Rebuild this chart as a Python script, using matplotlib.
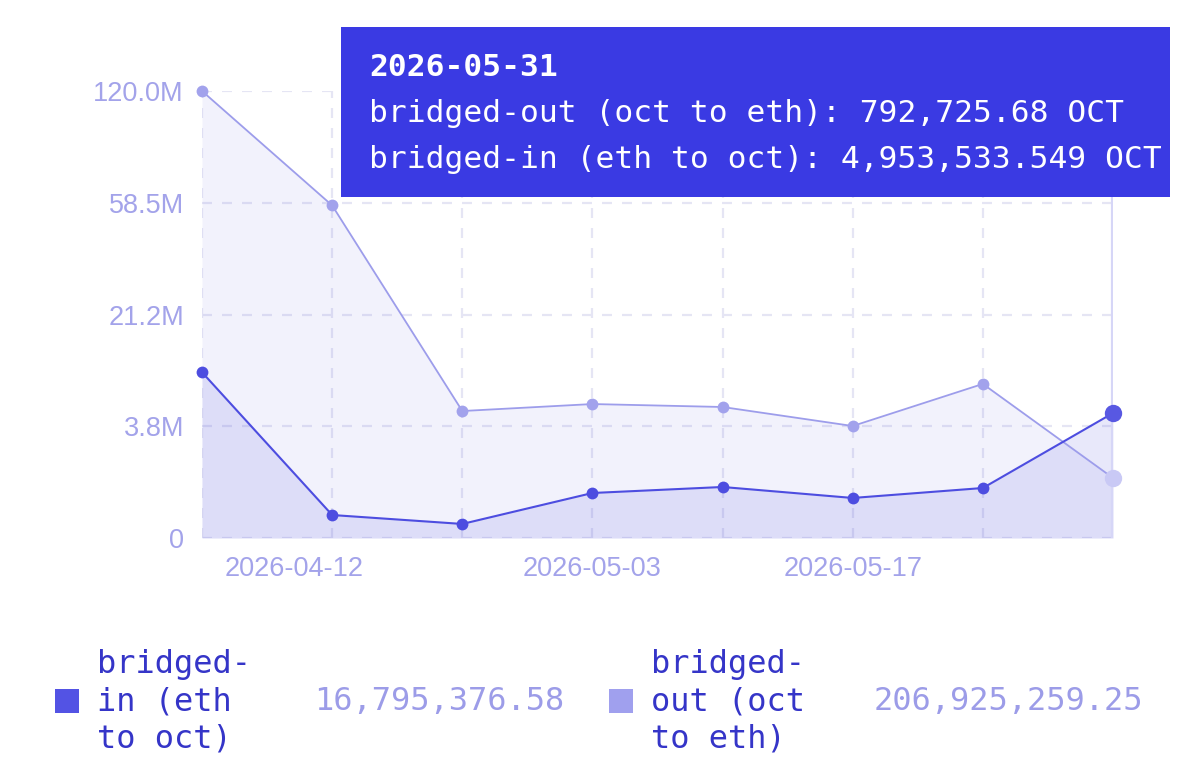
"""
Bridged OCT volume per week: bridged-in vs bridged-out, on a power (^0.4) y scale,
with the hover tooltip for the last week and a totals legend underneath.
Output: out.png
"""

import numpy as np
import pandas as pd
import matplotlib
matplotlib.use("Agg")
import matplotlib.pyplot as plt
import matplotlib.dates as mdates
from matplotlib.patches import Rectangle
from matplotlib.transforms import ScaledTranslation

# ---------------------------------------------------------------------------
# Data
# ---------------------------------------------------------------------------
dates = ["2026-04-12", "2026-04-19", "2026-04-26", "2026-05-03",
         "2026-05-10", "2026-05-17", "2026-05-24", "2026-05-31"]
bridged_out = [120.0e6, 57.3e6, 5.16e6, 5.9e6, 5.58e6, 3.77e6, 8.37e6, 792725.68]
bridged_in = [10.05e6, 0.072e6, 0.021e6, 0.386e6, 0.528e6, 0.288e6, 0.502e6, 4953533.549]

y_ticks = [0, 3.75e6, 21.21e6, 58.46e6, 120.0e6]
y_tick_labels = ["0", "3.8M", "21.2M", "58.5M", "120.0M"]
x_tick_dates = ["2026-04-12", "2026-05-03", "2026-05-17"]

total_in = "16,795,376.58"
total_out = "206,925,259.25"
tooltip_date = "2026-05-31"
tooltip_out = "792,725.68"
tooltip_in = "4,953,533.549"

# ---------------------------------------------------------------------------
# Style
# ---------------------------------------------------------------------------
C_IN = "#4d4de0"
C_OUT = "#9d9deb"
C_TICK = "#a3a3ea"
C_GRID = "#e5e5f4"
C_TIP = "#3a3ae3"
C_LEG = "#3535c8"
C_VAL = "#9c9ce8"
MONO = "DejaVu Sans Mono"
SANS = "Liberation Sans"

x = pd.to_datetime(dates)

fig = plt.figure(figsize=(12, 7.8), dpi=100)
ax = fig.add_axes([202 / 1200, 1 - 538 / 780, (1113 - 202) / 1200, 447 / 780])

ax.set_yscale("function",
              functions=(lambda v: np.power(np.clip(v, 0, None), 0.4),
                         lambda v: np.power(np.clip(v, 0, None), 2.5)))
ax.set_ylim(0, 120e6)
ax.set_xlim(x[0], x[-1])

# grid
for d in x:
    ax.axvline(d, color=C_GRID, lw=1.6, dashes=(4.5, 4.5), zorder=1)
for t in y_ticks:
    ax.axhline(t, color=C_GRID, lw=1.6, dashes=(4.5, 4.5), zorder=1)

# areas
ax.fill_between(x, 0, bridged_out, color="#7070e8", alpha=0.09, lw=0, zorder=2)
ax.fill_between(x, 0, bridged_in, color="#5050e0", alpha=0.13, lw=0, zorder=3)

# cursor line
ax.axvline(x[-1], color="#d6d6f7", lw=3, zorder=3)

# lines + dots
ax.plot(x, bridged_out, color=C_OUT, lw=1.3, zorder=4)
ax.plot(x, bridged_in, color=C_IN, lw=1.5, zorder=5)
ax.plot(x[:-1], bridged_out[:-1], "o", color="#a2a2ec", ms=8.5, mec="none", zorder=6,
        clip_on=False)
ax.plot(x[:-1], bridged_in[:-1], "o", color=C_IN, ms=8.5, mec="none", zorder=6,
        clip_on=False)
ax.plot(x[-1:], bridged_out[-1:], "o", color="#c9c9f5", ms=12.5, mec="none", zorder=6,
        clip_on=False)
ax.plot(x[-1:], bridged_in[-1:], "o", color="#5858e2", ms=12.5, mec="none", zorder=7,
        clip_on=False)

# axes
for s in ax.spines.values():
    s.set_visible(False)
ax.set_yticks(y_ticks)
ax.set_yticklabels(y_tick_labels)
ax.set_xticks(pd.to_datetime(x_tick_dates))
ax.xaxis.set_major_formatter(mdates.DateFormatter("%Y-%m-%d"))
ax.tick_params(axis="both", length=0, labelsize=19.5, labelcolor=C_TICK)
ax.tick_params(axis="y", pad=13)
ax.tick_params(axis="x", pad=13)
for lab in ax.get_yticklabels() + ax.get_xticklabels():
    lab.set_fontfamily(SANS)
# first date label is pushed right, like the original
first = ax.get_xticklabels()[0]
first.set_transform(first.get_transform() + ScaledTranslation(0.92, 0, fig.dpi_scale_trans))

# ---------------------------------------------------------------------------
# Tooltip
# ---------------------------------------------------------------------------
fig.patches.append(Rectangle((341 / 1200, 1 - 197 / 780), 829 / 1200, 170 / 780,
                             transform=fig.transFigure, facecolor=C_TIP,
                             edgecolor="none", zorder=10))
fig.text(369 / 1200, 1 - 68 / 780, tooltip_date, family=MONO, weight="bold",
         fontsize=22.5, color="white", va="center", zorder=11)
fig.text(369 / 1200, 1 - 114 / 780, f"bridged-out (oct to eth): {tooltip_out} OCT",
         family=MONO, fontsize=22.5, color="white", va="center", zorder=11)
fig.text(369 / 1200, 1 - 160 / 780, f"bridged-in (eth to oct): {tooltip_in} OCT",
         family=MONO, fontsize=22.5, color="white", va="center", zorder=11)

# ---------------------------------------------------------------------------
# Legend with totals
# ---------------------------------------------------------------------------
leg_y = 1 - 702 / 780
fig.patches.append(Rectangle((55 / 1200, 1 - 713 / 780), 24 / 1200, 24 / 780,
                             transform=fig.transFigure, facecolor="#5353e4",
                             edgecolor="none"))
fig.text(97 / 1200, leg_y, "bridged-\nin (eth\nto oct)", family=MONO, fontsize=23,
         color=C_LEG, va="center", linespacing=1.25)
fig.text(314 / 1200, leg_y, total_in, family=MONO, fontsize=23, color=C_VAL, va="center")

fig.patches.append(Rectangle((609 / 1200, 1 - 713 / 780), 24 / 1200, 24 / 780,
                             transform=fig.transFigure, facecolor="#a0a0ee",
                             edgecolor="none"))
fig.text(651 / 1200, leg_y, "bridged-\nout (oct\nto eth)", family=MONO, fontsize=23,
         color=C_LEG, va="center", linespacing=1.25)
fig.text(874 / 1200, leg_y, total_out, family=MONO, fontsize=23, color=C_VAL, va="center")

fig.savefig("out.png", dpi=100, facecolor="white")
